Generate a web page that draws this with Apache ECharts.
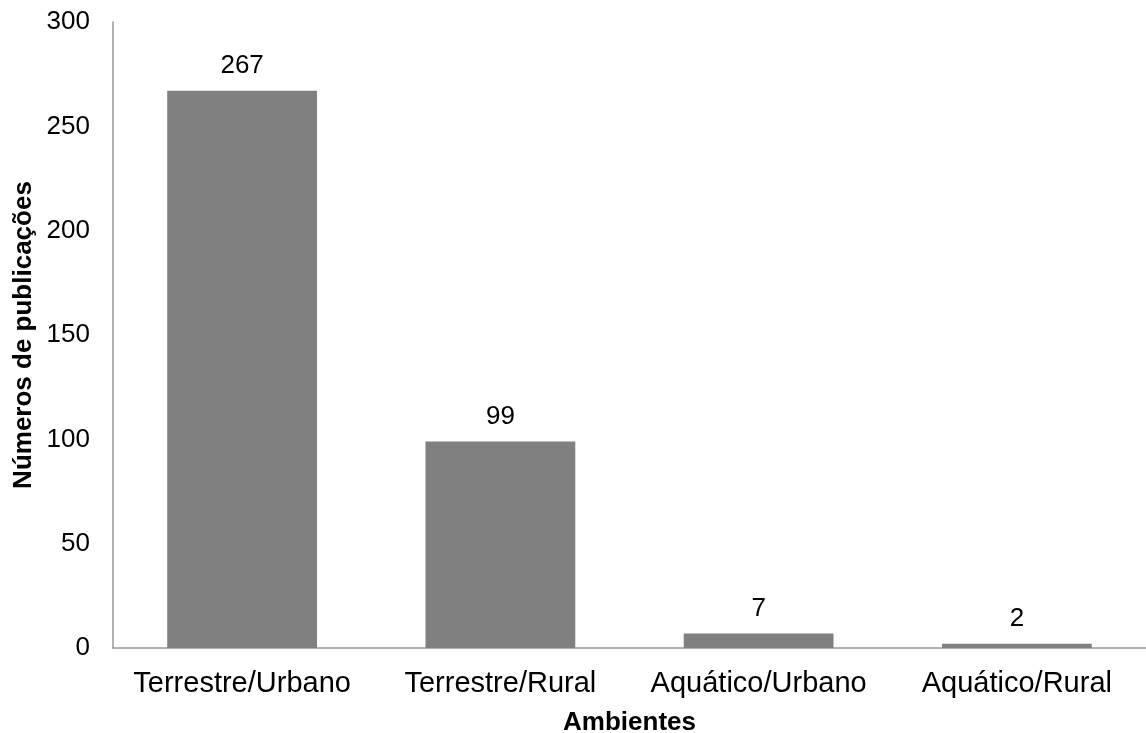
<!DOCTYPE html>
<html><head><meta charset="utf-8">
<script src="https://cdn.jsdelivr.net/npm/echarts@6/dist/echarts.min.js"></script>
<style>html,body{margin:0;padding:0;background:#fff}#c{width:1146px;height:733px}</style>
</head><body><div id="c"></div>
<script>
const categories = ['Terrestre/Urbano', 'Terrestre/Rural', 'Aquático/Urbano', 'Aquático/Rural'];
const values = [267, 99, 7, 2];
const yTicks = [0, 50, 100, 150, 200, 250, 300];

const chart = echarts.init(document.getElementById('c'), null, {renderer: 'canvas'});
const font = '"Liberation Sans", Arial, sans-serif';
chart.setOption({
  animation: false,
  grid: {left: 113, right: 0, top: 22, bottom: 85, outerBoundsMode: 'none', containLabel: false},
  xAxis: {
    type: 'category', data: categories,
    name: 'Ambientes', nameLocation: 'middle', nameGap: 62, nameMoveOverlap: false,
    nameTextStyle: {fontFamily: font, fontSize: 26, fontWeight: 'bold', color: '#000'},
    axisLine: {lineStyle: {color: '#999', width: 1.5}},
    axisTick: {show: false},
    axisLabel: {fontFamily: font, fontSize: 29, color: '#000', margin: 21, interval: 0, hideOverlap: false}
  },
  yAxis: {
    type: 'value', min: yTicks[0], max: yTicks[yTicks.length - 1], interval: 50,
    name: 'Números de publicações', nameLocation: 'middle', nameGap: 76, nameMoveOverlap: false,
    nameTextStyle: {fontFamily: font, fontSize: 26, fontWeight: 'bold', color: '#000'},
    axisLine: {show: true, lineStyle: {color: '#999', width: 1.5}},
    axisTick: {show: false},
    splitLine: {show: false},
    axisLabel: {fontFamily: font, fontSize: 26, color: '#000', margin: 23}
  },
  series: [{
    type: 'bar', data: values, barWidth: '58%',
    itemStyle: {color: '#808080'},
    label: {show: true, position: 'top', distance: 12, fontFamily: font, fontSize: 26, color: '#000'}
  }]
});
</script></body></html>
